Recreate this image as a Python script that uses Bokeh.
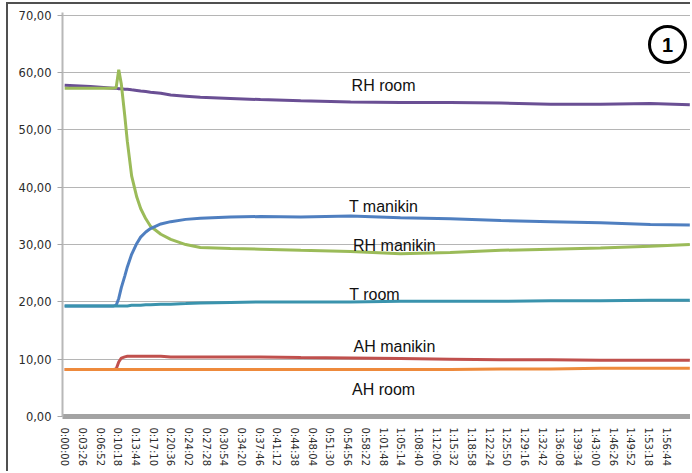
from bokeh.plotting import figure
from bokeh.models import Range1d, FixedTicker, Label
from bokeh.core.properties import value
from bokeh.embed import file_html
from bokeh.resources import INLINE

# time in seconds since start
time_s = [0, 300, 570, 600, 630, 660, 700, 730, 780, 840, 885, 945, 1000, 1120,
          1235, 1410, 1580, 1930, 2280, 2750, 3330, 3910, 4490, 5080, 5660, 6240,
          6820, 7280]

rh_room = [57.8, 57.6, 57.3, 57.3, 57.2, 57.2, 57.1, 57.1, 57.0, 56.9, 56.8, 56.7,
           56.6, 56.4, 56.1, 55.9, 55.7, 55.5, 55.3, 55.1, 54.9, 54.8, 54.8, 54.7,
           54.5, 54.5, 54.6, 54.4]
rh_manikin = [57.3, 57.3, 57.3, 57.4, 60.5, 58.0, 52.5, 48.0, 42.0, 38.3, 36.3, 34.5,
              33.2, 31.8, 30.9, 30.0, 29.5, 29.3, 29.2, 29.0, 28.8, 28.4, 28.6, 29.0,
              29.2, 29.4, 29.7, 30.0]
t_manikin = [19.3, 19.3, 19.3, 19.4, 20.6, 22.5, 24.5, 26.1, 28.3, 30.2, 31.3, 32.2,
             32.8, 33.6, 34.0, 34.4, 34.6, 34.8, 34.9, 34.8, 35.0, 34.7, 34.5, 34.2,
             34.0, 33.8, 33.5, 33.4]
t_room = [19.3, 19.3, 19.3, 19.3, 19.3, 19.3, 19.3, 19.3, 19.4, 19.4, 19.4, 19.5,
          19.5, 19.6, 19.6, 19.7, 19.8, 19.9, 20.0, 20.0, 20.0, 20.1, 20.1, 20.1,
          20.2, 20.2, 20.3, 20.3]
ah_manikin = [8.2, 8.2, 8.2, 8.3, 9.5, 10.2, 10.4, 10.5, 10.5, 10.5, 10.5, 10.5,
              10.5, 10.5, 10.4, 10.4, 10.4, 10.4, 10.4, 10.3, 10.2, 10.1, 10.0, 9.9,
              9.9, 9.8, 9.8, 9.8]
ah_room = [8.2, 8.2, 8.2, 8.2, 8.2, 8.2, 8.2, 8.2, 8.2, 8.2, 8.2, 8.2, 8.2, 8.2,
           8.2, 8.2, 8.2, 8.2, 8.2, 8.2, 8.2, 8.2, 8.2, 8.3, 8.3, 8.4, 8.4, 8.4]

y_ticks = [0, 10, 20, 30, 40, 50, 60, 70]
y_tick_labels = ["0,00", "10,00", "20,00", "30,00", "40,00", "50,00", "60,00", "70,00"]

x_tick_step = 206
x_tick_labels = ["0:00:00", "0:03:26", "0:06:52", "0:10:18", "0:13:44", "0:17:10",
                 "0:20:36", "0:24:02", "0:27:28", "0:30:54", "0:34:20", "0:37:46",
                 "0:41:12", "0:44:38", "0:48:04", "0:51:30", "0:54:56", "0:58:22",
                 "1:01:48", "1:05:14", "1:08:40", "1:12:06", "1:15:32", "1:18:58",
                 "1:22:24", "1:25:50", "1:29:16", "1:32:42", "1:36:08", "1:39:34",
                 "1:43:00", "1:46:26", "1:49:52", "1:53:18", "1:56:44"]

series = [
    ("RH room", rh_room, "#6a4f94", 3714, 57.8),
    ("RH manikin", rh_manikin, "#9bbb59", 3840, 29.8),
    ("T manikin", t_manikin, "#4f7fc0", 3714, 36.6),
    ("T room", t_room, "#3a93ad", 3610, 21.3),
    ("AH manikin", ah_manikin, "#c0504d", 3840, 12.2),
    ("AH room", ah_room, "#ee8a3c", 3714, 4.7),
]

p = figure(width=684, height=469, output_backend="svg", toolbar_location=None,
           x_range=Range1d(-25, 7288), y_range=Range1d(0, 70.5),
           min_border_left=54, min_border_right=2, min_border_top=8,
           min_border_bottom=57)
p.styles = {"margin-left": "6px", "margin-top": "2px",
            "border-left": "2px solid #505050", "border-top": "2px solid #505050"}
p.outline_line_color = None
p.background_fill_color = "white"
p.border_fill_color = "white"

p.xgrid.visible = False
p.ygrid.ticker = FixedTicker(ticks=y_ticks[1:])
p.ygrid.grid_line_color = "#b5b5b5"
p.ygrid.grid_line_width = 1

ya = p.yaxis[0]
ya.ticker = FixedTicker(ticks=y_ticks)
ya.major_label_overrides = {t: l for t, l in zip(y_ticks, y_tick_labels)}
ya.axis_line_color = "#b8b8b8"
ya.axis_line_width = 2
ya.major_tick_line_color = "#a8a8a8"
ya.major_tick_in = 0
ya.major_tick_out = 5
ya.minor_tick_line_color = None
ya.major_label_text_font = "DejaVu Sans"
ya.major_label_text_font_size = "11.5px"
ya.major_label_text_color = "#2b2b2b"
ya.major_label_standoff = 6

x_ticks = [i * x_tick_step for i in range(len(x_tick_labels))]
xa = p.xaxis[0]
xa.ticker = FixedTicker(ticks=x_ticks)
xa.major_label_overrides = {t: l for t, l in zip(x_ticks, x_tick_labels)}
xa.major_label_orientation = "vertical"
xa.axis_line_color = "#a3a3a3"
xa.axis_line_width = 5
xa.major_tick_line_color = None
xa.minor_tick_line_color = None
xa.major_label_text_font = "DejaVu Sans"
xa.major_label_text_font_size = "10px"
xa.major_label_text_color = "#2b2b2b"
xa.major_label_standoff = 5

for name, vals, color, lx, ly in series:
    p.line(time_s, vals, line_color=color, line_width=3)
    p.add_layout(Label(x=lx, y=ly, text=name, text_align="center",
                       text_baseline="middle", text_font="Liberation Sans",
                       text_font_size="16px", text_color="#111111"))

badge_x, badge_y = 7020, 64.9
p.scatter([badge_x], [badge_y], size=36, marker="circle", fill_color="white",
          line_color="black", line_width=3)
p.text([badge_x], [badge_y], text=["1"], text_align="center", text_baseline="middle",
       text_font=value("Liberation Sans"), text_font_size="20px",
       text_font_style="bold", text_color="black")

open("out.html", "w").write(file_html(p, INLINE))
